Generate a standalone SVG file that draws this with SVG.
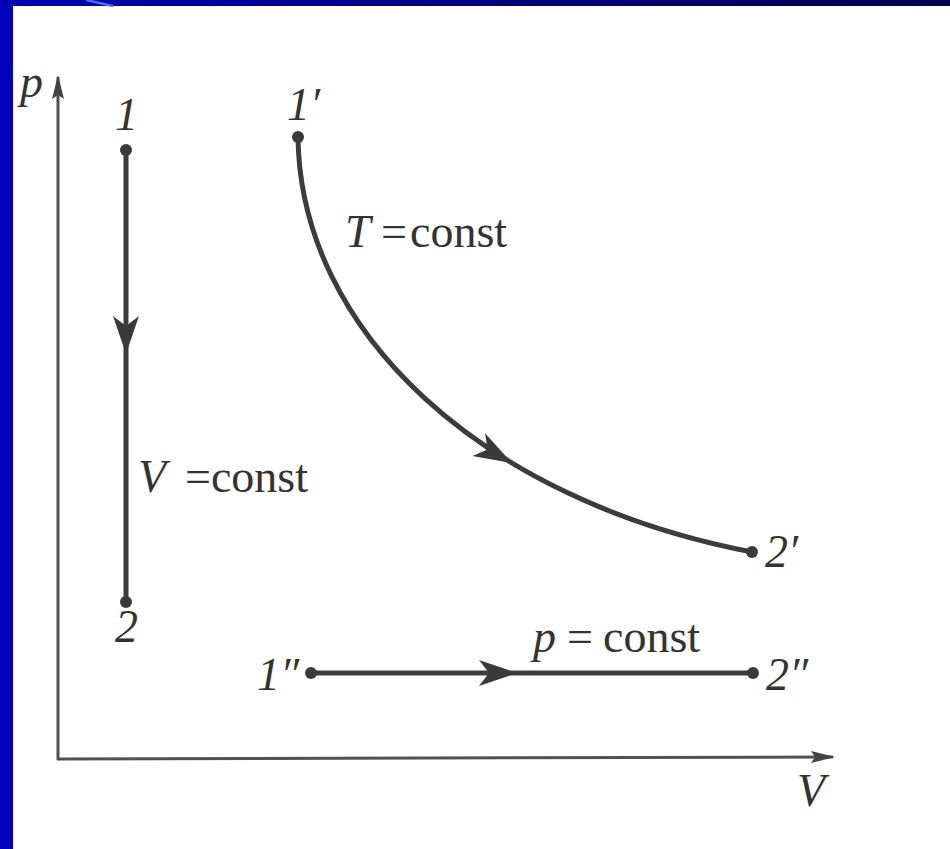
<svg xmlns="http://www.w3.org/2000/svg" width="950" height="849" viewBox="0 0 950 849">
<defs>
<linearGradient id="topg" x1="0" y1="0" x2="1" y2="0">
<stop offset="0" stop-color="#0000B4"/>
<stop offset="1" stop-color="#000050"/>
</linearGradient>
<marker id="axh" viewBox="0 0 24 14" refX="22" refY="7" markerWidth="24" markerHeight="14" markerUnits="userSpaceOnUse" orient="auto">
<path d="M0,1 L24,7 L0,13 L4,7 Z" fill="#444"/>
</marker>
<path id="barb" d="M0,0 L-38,-13 L-28,0 L-38,13 Z"/>
</defs>
<style>
.frame{fill:#0000BE}
.axis{stroke:#505050;stroke-width:3;fill:none}
.proc{stroke:#3c3c3c;stroke-width:5;fill:none;stroke-linecap:round}
.dot{fill:#3a3a3a}
.ah{fill:#3a3a3a}
text{font-family:"Liberation Serif","Times New Roman",serif;font-size:46px;fill:#333}
.it{font-style:italic}
</style>
<rect width="950" height="849" fill="#ffffff"/>
<rect class="frame" x="0" y="0" width="13" height="849"/>
<rect x="0" y="0" width="950" height="6" fill="url(#topg)"/>
<path d="M86,0 L113,6" stroke="#3f6fff" stroke-width="2.5"/>
<g id="axes">
<line class="axis" x1="58" y1="760" x2="58" y2="77" marker-end="url(#axh)"/>
<line class="axis" x1="57" y1="759" x2="833" y2="757" marker-end="url(#axh)"/>
<text class="it" x="20" y="97">p</text>
<text class="it" x="797" y="806">V</text>
</g>
<g id="connectors">
<line class="proc" x1="126" y1="150" x2="126" y2="602"/>
<use href="#barb" class="ah" transform="translate(126,354) rotate(90)"/>
<path class="proc" d="M298,137 C300,330 480,500 752,552"/>
<use href="#barb" class="ah" transform="translate(512,463) rotate(29)"/>
<line class="proc" x1="311" y1="673" x2="753" y2="673"/>
<use href="#barb" class="ah" transform="translate(517,673)"/>
</g>
<g id="node-1"><circle class="dot" cx="126" cy="150" r="6"/><text class="it" x="115" y="130">1</text></g>
<g id="node-2"><circle class="dot" cx="126" cy="602" r="6"/><text class="it" x="115" y="642">2</text></g>
<g id="node-1p"><circle class="dot" cx="298" cy="137" r="6"/><text class="it" x="287" y="120">1′</text></g>
<g id="node-2p"><circle class="dot" cx="752" cy="552" r="6"/><text class="it" x="765" y="567">2′</text></g>
<g id="node-1pp"><circle class="dot" cx="311" cy="673" r="6"/><text class="it" x="257" y="690">1″</text></g>
<g id="node-2pp"><circle class="dot" cx="753" cy="673" r="6"/><text class="it" x="766" y="690">2″</text></g>
<g id="labels">
<text y="492"><tspan class="it" x="138">V</tspan><tspan x="185">=const</tspan></text>
<text y="247"><tspan class="it" x="345">T</tspan><tspan x="381">=</tspan><tspan x="410">const</tspan></text>
<text y="652"><tspan class="it" x="533">p</tspan><tspan x="567">=</tspan><tspan x="603">const</tspan></text>
</g>
</svg>
